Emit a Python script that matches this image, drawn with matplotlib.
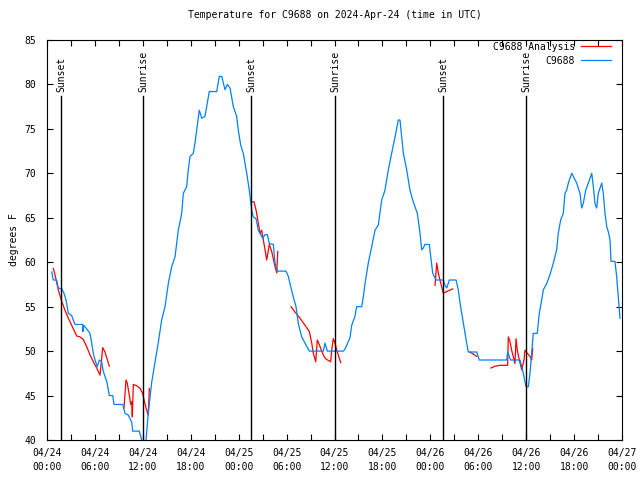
import numpy as np
import matplotlib
matplotlib.use("Agg")
import matplotlib.pyplot as plt

# 시간: 2024-04-24 00:00 UTC 기준 경과 시간(h)
obs_hours = [0.59, 0.79, 1.21, 1.41, 1.84, 2.13, 2.38, 2.67, 3.09, 3.29, 3.51, 4.47, 4.5, 4.6,
             4.97, 5.38, 5.60, 5.80, 6.01, 6.30, 6.55, 6.85, 7.05, 7.48, 7.80, 8.23, 8.39, 9.48,
             9.77, 10.18, 10.61, 10.73, 11.23, 11.56, 11.86, 12.1, 12.40, 12.68, 13.11, 13.52,
             13.94, 14.36, 14.78, 15.19, 15.61, 16.03, 16.44, 16.87, 17.07, 17.49, 17.69, 17.91,
             18.32, 18.53, 18.75, 19.07, 19.37, 19.78, 20.20, 20.32, 21.25, 21.57, 21.88, 22.29,
             22.58, 22.92, 23.33, 23.75, 23.95, 24.25, 24.58, 25.01, 25.33, 25.63, 25.83, 26.17,
             26.46, 27.01, 27.30, 27.59, 27.84, 28.34, 28.55, 28.84, 29.93, 30.22, 30.52, 30.84,
             31.18, 31.47, 31.89, 32.31, 32.85, 34.60, 34.81, 35.10, 37.10, 37.3, 37.94, 38.15,
             38.56, 38.77, 39.41, 39.61, 39.82, 40.23, 40.66, 41.07, 41.49, 41.91, 42.32, 42.74,
             43.16, 43.58, 43.99, 44.20, 44.41, 44.62, 45.04, 45.45, 45.79, 46.08, 46.37, 46.71,
             46.92, 47.12, 47.33, 47.87, 48.05, 48.30, 48.71, 49.62, 49.84, 50.05, 50.38, 51.22,
             51.50, 51.72, 51.93, 52.13, 52.34, 52.55, 52.75, 53.81, 54.13, 57.56, 57.68, 58.06,
             59.23, 59.64, 59.98, 60.27, 60.48, 60.69, 60.89, 61.39, 61.64, 61.94, 62.15, 62.57,
             62.98, 63.40, 63.82, 64.02, 64.32, 64.65, 64.86, 65.07, 65.28, 65.70, 66.33, 66.74,
             66.95, 67.15, 67.45, 67.78, 68.21, 68.41, 68.62, 68.83, 69.03, 69.46, 69.66, 69.87,
             70.09, 70.29, 70.50, 70.62, 71.12, 71.33, 71.54, 71.75]
obs_temp = [58.9, 58.0, 58.0, 57.1, 57.0, 56.5, 55.75, 54.25, 54.0, 53.5, 53.0, 53.0, 52.2, 52.9,
            52.5, 52.0, 50.9, 49.75, 49.0, 48.25, 49.0, 48.8, 47.7, 46.6, 45.0, 45.0, 44.0, 44.0,
            43.0, 42.8, 42.0, 41.0, 41.0, 41.0, 40.0, 39.4, 40.0, 43.0, 46.5, 48.7,
            51.0, 53.5, 55.0, 57.6, 59.5, 60.6, 63.6, 65.5, 67.75, 68.5, 70.4, 71.9,
            72.25, 73.4, 74.9, 77.1, 76.2, 76.4, 78.6, 79.2, 79.2, 80.9, 80.9, 79.4,
            80.0, 79.6, 77.5, 76.4, 74.9, 73.2, 72.25, 70.0, 68.1, 65.9, 65.1, 64.9,
            63.6, 62.7, 63.1, 63.1, 62.1, 62.0, 59.9, 59.0, 59.0, 58.4, 57.25, 56.1,
            55.0, 53.1, 51.6, 50.9, 50.0, 50.0, 50.9, 50.0, 50.0, 50.2, 51.5, 52.9,
            53.9, 55.0, 55.0, 56.1, 57.6, 59.9, 61.75, 63.6, 64.2, 67.0, 68.1, 70.4,
            72.25, 74.1, 76.0, 76.0, 74.1, 72.25, 70.4, 68.1, 67.0, 66.25, 65.5, 63.25,
            61.4, 61.6, 62.0, 62.0, 60.6, 58.75, 58.0, 58.0, 57.4, 57.1, 58.0, 58.0,
            56.9, 55.4, 54.25, 53.1, 52.0, 50.9, 49.9, 49.9, 49.0, 49.0, 49.9, 49.0,
            49.0, 47.5, 46.0, 46.0, 47.5, 49.75, 52.0, 52.0, 54.25, 55.75, 56.9, 57.6,
            58.6, 59.9, 61.4, 63.25, 64.75, 65.5, 67.75, 68.1, 68.9, 70.0, 68.9, 67.75,
            66.1, 66.6, 68.1, 68.9, 70.0, 68.5, 66.6, 66.1, 67.75, 68.9, 67.75, 65.5,
            64.0, 63.4, 62.5, 60.1, 60.1, 58.4, 56.1, 53.7]

# 분석값(끊어진 구간들)
ana_hours_1 = [0.79, 1.00, 1.41, 1.84, 2.25, 2.67, 3.09, 3.72, 4.13, 4.55, 4.97, 5.38, 5.80,
               6.22, 6.64, 6.85, 6.97, 7.26, 7.80]
ana_temp_1 = [59.3, 58.6, 56.9, 55.6, 54.6, 53.7, 52.9, 51.7, 51.6, 51.3, 50.5, 49.6, 48.8,
              48.1, 47.3, 49.2, 50.4, 49.9, 48.3]
ana_hours_2 = [9.64, 9.89, 10.05, 10.31, 10.48, 10.61, 10.68, 10.81, 11.23, 11.65, 11.98, 12.15,
               12.40, 12.68, 12.81]
ana_temp_2 = [43.6, 46.75, 46.4, 45.0, 44.0, 44.3, 42.6, 46.25, 46.1, 45.8, 45.25, 44.5,
              43.6, 42.8, 45.8]
ana_hours_3 = [25.63, 25.92, 26.17, 26.46, 26.67, 26.88, 27.09, 27.30, 27.51, 27.84, 28.14,
               28.55, 28.77, 28.89]
ana_temp_3 = [66.8, 66.8, 65.9, 64.4, 63.25, 63.6, 62.5, 61.4, 60.25, 62.0, 61.2, 59.5, 58.8, 61.2]
ana_hours_4 = [30.55, 31.05, 31.68, 32.31, 32.85, 33.15, 33.35, 33.65, 33.85, 34.02, 34.40,
               34.69, 34.94, 35.52, 35.65, 35.85, 36.06, 36.28, 36.78]
ana_temp_4 = [55.0, 54.4, 53.7, 52.9, 52.2, 50.9, 49.75, 48.8, 51.25, 50.9, 50.0, 49.4, 49.1,
              48.8, 50.1, 51.4, 50.9, 50.1, 48.7]
ana_hours_5 = [48.59, 48.80, 49.00, 49.21, 49.42, 49.62, 50.05, 50.80]
ana_temp_5 = [57.4, 59.9, 58.75, 58.0, 57.25, 56.5, 56.7, 57.0]
ana_hours_6 = [52.97, 53.81]
ana_temp_6 = [49.9, 49.4]
ana_hours_7 = [55.60, 56.10, 56.72, 57.68, 57.76, 57.97, 58.18, 58.38, 58.60, 58.73, 58.89,
               59.14, 59.44, 59.73, 59.85, 60.14, 60.48, 60.69, 60.82]
ana_temp_7 = [48.1, 48.3, 48.4, 48.4, 51.6, 51.1, 50.1, 49.4, 48.6, 51.4, 50.1, 49.0, 47.9,
              49.0, 50.1, 49.75, 49.4, 49.0, 50.3]

sun_hours = [1.75, 12.02, 25.54, 36.06, 49.59, 59.98]
sun_labels = ["Sunset", "Sunrise", "Sunset", "Sunrise", "Sunset", "Sunrise"]

# 구간 사이는 NaN으로 끊기
ah, at = [], []
for h, t in [(ana_hours_1, ana_temp_1), (ana_hours_2, ana_temp_2), (ana_hours_3, ana_temp_3),
             (ana_hours_4, ana_temp_4), (ana_hours_5, ana_temp_5), (ana_hours_6, ana_temp_6),
             (ana_hours_7, ana_temp_7)]:
    ah += h + [np.nan]
    at += t + [np.nan]

plt.rcParams['font.family'] = ['DejaVu Sans Mono']
plt.rcParams['font.size'] = 7

fig = plt.figure(figsize=(6.4, 4.8), dpi=100)
ax = fig.add_axes([47 / 640, 40 / 480, 575 / 640, 400 / 480])

ax.plot(ah, at, color='#ff0000', lw=0.9, label='C9688 Analysis')
ax.plot(obs_hours, obs_temp, color='#0080ff', lw=0.9, label='C9688')

for h, lab in zip(sun_hours, sun_labels):
    ax.plot([h, h], [40, 78.7], color='black', lw=1.0)
    ax.text(h, 79.2, lab, rotation=90, ha='center', va='bottom', fontsize=7)

ax.set_xlim(0, 72)
ax.set_ylim(40, 85)
ax.set_xticks(np.arange(0, 73, 6))
ax.set_xticks(np.arange(0, 73, 3), minor=True)
ax.set_xticklabels(["04/%d\n%02d:00" % (24 + h // 24, h % 24) for h in range(0, 73, 6)],
                   linespacing=1.5)
ax.set_yticks(np.arange(40, 86, 5))
ax.tick_params(which='both', direction='in', length=4, width=0.8,
               top=True, right=True, labelsize=7, pad=6)
ax.tick_params(axis='y', pad=8)
for s in ax.spines.values():
    s.set_linewidth(0.8)

ax.set_title("Temperature for C9688 on 2024-Apr-24 (time in UTC)", fontsize=7, pad=16)
ax.set_ylabel("degrees F", fontsize=7, labelpad=4)

ax.legend(loc='upper right', bbox_to_anchor=(0.988, 1.005), markerfirst=False, frameon=False,
          handlelength=3.1, handletextpad=0.6, labelspacing=0.4, borderaxespad=0.0,
          fontsize=7)

plt.savefig("out.png", dpi=100)
